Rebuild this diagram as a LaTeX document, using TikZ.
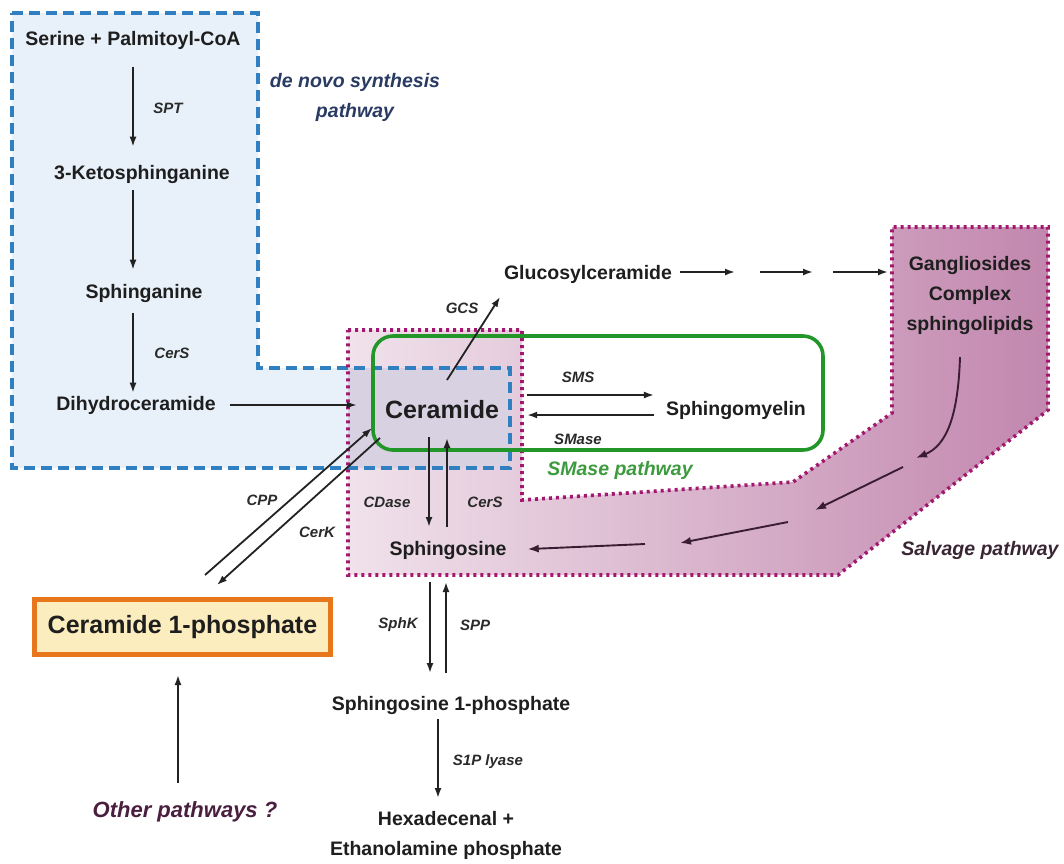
\documentclass[tikz,border=0pt]{standalone}
\usepackage{fontspec}
\setmainfont{Liberation Sans}
\usetikzlibrary{arrows.meta,calc}
\definecolor{bluedash}{HTML}{2F7FC1}
\definecolor{bluefill}{HTML}{E8F1F9}
\definecolor{lav}{HTML}{D8D1E1}
\definecolor{pinkL}{HTML}{F0E2EB}
\definecolor{pinkR}{HTML}{C287AE}
\definecolor{pinkline}{HTML}{A3186F}
\definecolor{grn}{HTML}{23962A}
\definecolor{orng}{HTML}{E8771C}
\definecolor{c1pfill}{HTML}{FCEDBE}
\definecolor{txt}{HTML}{1E1E1E}
\definecolor{enztxt}{HTML}{2A2A2A}
\definecolor{arrc}{HTML}{222222}
\definecolor{salarr}{HTML}{3B1D33}
\definecolor{denovoc}{HTML}{2A3B63}
\definecolor{smasec}{HTML}{3E9A3E}
\definecolor{salvc}{HTML}{3A2633}
\definecolor{otherc}{HTML}{4A1E3E}
\begin{document}
\begin{tikzpicture}[x=1pt,y=-1pt,
  mol/.style={font=\fontsize{19.5}{30}\selectfont\bfseries, text=txt, inner sep=0pt, align=center},
  big/.style={font=\fontsize{25}{30}\selectfont\bfseries, text=txt, inner sep=0pt},
  enz/.style={font=\fontsize{15}{18}\selectfont\bfseries\itshape, text=enztxt, inner sep=0pt},
  path label/.style={font=\fontsize{19.5}{30}\selectfont\bfseries\itshape, inner sep=0pt, align=center},
  arr/.style={line width=1.8pt, draw=arrc, -{Latex[length=10pt,width=7pt]}},
  sarr/.style={line width=1.9pt, draw=salarr, -{Latex[length=11pt,width=8pt]}},
]
\useasboundingbox (0,0) rectangle (1064,863);
\fill[white] (0,0) rectangle (1064,863);

% region fills
\fill[bluefill] (12,13) -- (258,13) -- (258,368) -- (510,368) -- (510,468) -- (12,468) -- cycle;
\shade[left color=pinkL, right color=pinkR]
  (348,330) -- (522,330) -- (522,500) -- (793,482) -- (892,413) -- (892,227) -- (1048,227) -- (1048,410) -- (838,575) -- (348,575) -- cycle;
\begin{scope}
  \clip (348,330) -- (522,330) -- (522,500) -- (793,482) -- (892,413) -- (892,227) -- (1048,227) -- (1048,410) -- (838,575) -- (348,575) -- cycle;
  \fill[lav] (12,13) -- (258,13) -- (258,368) -- (510,368) -- (510,468) -- (12,468) -- cycle;
\end{scope}

% region outlines
\draw[bluedash, line width=3.5pt, dash pattern=on 11pt off 6pt]
  (12,13) -- (258,13) -- (258,368) -- (510,368) -- (510,468) -- (12,468) -- cycle;
\draw[pinkline, line width=3.6pt, dash pattern=on 3pt off 4pt]
  (348,330) -- (522,330) -- (522,500) -- (793,482) -- (892,413) -- (892,227) -- (1048,227) -- (1048,410) -- (838,575) -- (348,575) -- cycle;
\draw[grn, line width=3.6pt, rounded corners=20pt] (373,336) rectangle (823,450);

% molecules
\node[mol] (ser) at (133,40) {Serine + Palmitoyl-CoA};
\node[mol] (keto) at (142,174) {3-Ketosphinganine};
\node[mol] (sphga) at (144,293) {Sphinganine};
\node[mol] (dhc) at (136,405) {Dihydroceramide};
\node[big] (cer) at (442,410) {Ceramide};
\node[mol] (gluc) at (588,274) {Glucosylceramide};
\node[mol] (sm) at (736,410) {Sphingomyelin};
\node[mol] (gang) at (970,295) {Gangliosides\\Complex\\sphingolipids};
\node[mol] (sph) at (448,550) {Sphingosine};
\node[mol] (s1p) at (451,705) {Sphingosine 1-phosphate};
\node[mol] (hex) at (446,835) {Hexadecenal +\\Ethanolamine phosphate};
\node[big, draw=orng, line width=5pt, fill=c1pfill, minimum width=296pt, minimum height=55pt] (c1p) at (182.5,627) {Ceramide 1-phosphate};
\node[path label, font=\fontsize{22}{26}\selectfont\bfseries\itshape, text=otherc] (oth) at (185,812) {Other pathways ?};

% pathway labels
\node[path label, text=denovoc] (denovo) at (355,97) {de novo synthesis\\pathway};
\node[path label, text=smasec] (smasep) at (620,470) {SMase pathway};
\node[path label, text=salvc] (salvp) at (980,550) {Salvage pathway};

% de novo arrows
\coordinate (colA) at (133,0);
\draw[arr, shorten <=18pt, shorten >=18pt] (ser.south -| colA) -- (keto.north -| colA);
\draw[arr, shorten <=7pt, shorten >=14pt] (keto.south -| colA) -- (sphga.north -| colA);
\draw[arr, shorten <=11pt, shorten >=3pt] (sphga.south -| colA) -- (dhc.north -| colA);
\node[enz] (spt) at (168,108) {SPT};
\node[enz] (cers1) at (172,353) {CerS};
\draw[arr, shorten <=14pt, shorten >=28pt] (dhc.east) -- (dhc.east -| cer.west);

% GCS
\draw[arr] ($(cer.center)+(5,-30)$) -- ($(gluc.center)+(-88,23)$);
\node[enz] (gcs) at (462,308) {GCS};

% glucosylceramide chain
\coordinate (g1a) at (680,272); \coordinate (g1b) at (735,272);
\coordinate (g2a) at (760,272); \coordinate (g2b) at (813,272);
\coordinate (g3a) at (833,272); \coordinate (g3b) at (888,272);
\draw[arr] (g1a) -- (g1b);
\draw[arr] (g2a) -- (g2b);
\draw[arr] (g3a) -- (g3b);

% SMS / SMase
\draw[arr] ($(cer.east)+(28,-15)$) -- ($(sm.west)+(-12,-15)$);
\draw[arr] ($(sm.west)+(-12,5)$) -- ($(cer.east)+(28,5)$);
\node[enz] (sms) at (578,377) {SMS};
\node[enz] (smase) at (578,439) {SMase};

% CDase / CerS
\draw[arr] ($(cer.center)+(-13,27)$) -- ($(sph.center)+(-19,-23)$);
\draw[arr] ($(sph.center)+(-1,-23)$) -- ($(cer.center)+(5,28)$);
\node[enz] (cdase) at (387,502) {CDase};
\node[enz] (cers2) at (485,502) {CerS};

% CPP / CerK
\draw[arr] ($(c1p.north)+(22.5,-22)$) -- ($(cer.center)+(-70,18)$);
\draw[arr] ($(cer.center)+(-62,28)$) -- ($(c1p.north)+(34.5,-12)$);
\node[enz] (cpp) at (262,500) {CPP};
\node[enz] (cerk) at (317,532) {CerK};

% salvage
\coordinate (s1) at (916,458);
\coordinate (s2a) at (903,467); \coordinate (s2b) at (815,510);
\coordinate (s3a) at (788,522); \coordinate (s3b) at (680,543);
\coordinate (s4a) at (645,544);
\draw[sarr] ($(gang.center)+(-10,62)$) .. controls (958,420) and (945,446) .. (s1);
\draw[sarr] (s2a) -- (s2b);
\draw[sarr] (s3a) -- (s3b);
\draw[sarr, shorten >=21pt] (s4a) -- (sph.east);

% SphK / SPP
\draw[arr] ($(sph.center)+(-18,32)$) -- ($(s1p.center)+(-21,-32)$);
\draw[arr] ($(s1p.center)+(-5,-32)$) -- ($(sph.center)+(-2,32)$);
\node[enz] (sphk) at (398,625) {SphK};
\node[enz] (spp) at (475,625) {SPP};

% S1P lyase
\draw[arr] ($(s1p.center)+(-13,14)$) -- ($(hex.center)+(-8,-37)$);
\node[enz] (lyase) at (488,762) {S1P lyase};

% other pathways
\draw[arr] ($(oth.center)+(-7,-29)$) -- ($(c1p.south)+(-4.5,18)$);
\end{tikzpicture}
\end{document}
